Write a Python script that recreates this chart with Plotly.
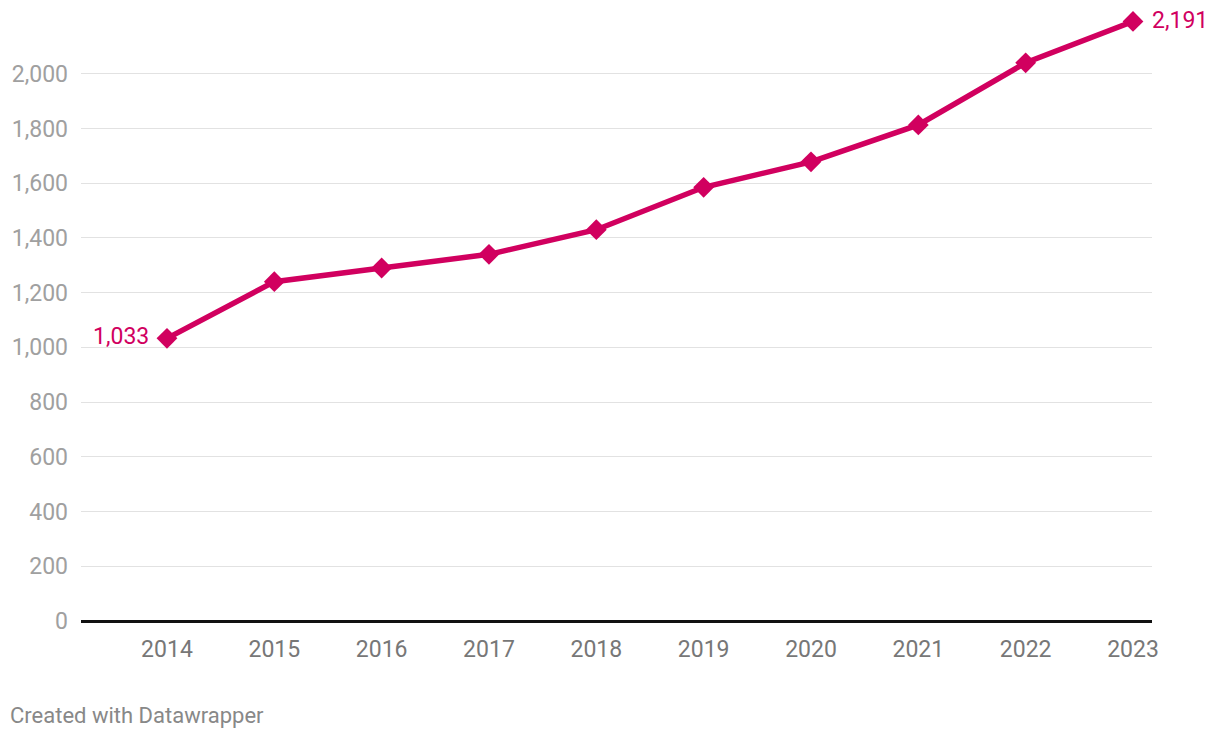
import plotly.graph_objects as go

years = [2014, 2015, 2016, 2017, 2018, 2019, 2020, 2021, 2022, 2023]
values = [1033, 1240, 1290, 1340, 1430, 1585, 1678, 1813, 2040, 2191]
y_ticks = [0, 200, 400, 600, 800, 1000, 1200, 1400, 1600, 1800, 2000]
y_tick_labels = ["0", "200", "400", "600", "800", "1,000", "1,200", "1,400", "1,600", "1,800", "2,000"]

LINE = "#d1005f"

fig = go.Figure()
fig.add_trace(go.Scatter(
    x=years, y=values, mode="lines+markers",
    line=dict(color=LINE, width=5.5),
    marker=dict(symbol="diamond", size=16, color=LINE),
    cliponaxis=False, hoverinfo="skip", showlegend=False,
))

fig.add_annotation(x=years[0], y=values[0], text=f"{values[0]:,}", showarrow=False,
                   xanchor="right", yanchor="middle", xshift=-16, yshift=2,
                   font=dict(family="Roboto", size=23, color=LINE))
fig.add_annotation(x=years[-1], y=values[-1], text=f"{values[-1]:,}", showarrow=False,
                   xanchor="left", yanchor="middle", xshift=17, yshift=1,
                   font=dict(family="Roboto", size=23, color=LINE))

fig.add_annotation(xref="paper", yref="paper", x=(0 - 73) / 1071, y=(613 - 707) / 602,
                   text="Created with Datawrapper", showarrow=False,
                   xanchor="left", yanchor="middle",
                   font=dict(family="Roboto", size=22, color="#888888"))

fig.update_layout(
    width=1212, height=730,
    margin=dict(l=73, r=68, t=11, b=117, autoexpand=False),
    paper_bgcolor="white", plot_bgcolor="white",
    font=dict(family="Roboto"),
    xaxis=dict(range=[2013.199, 2023.177], tickvals=years, ticktext=[str(y) for y in years],
               showgrid=False, zeroline=False, showline=False, automargin=False,
               ticks="", ticklabelstandoff=12,
               tickfont=dict(family="Roboto", size=23, color="#777777")),
    yaxis=dict(range=[0, 2200], tickvals=y_ticks, ticktext=y_tick_labels,
               showgrid=True, gridcolor="#e2e2e2", gridwidth=1, automargin=False,
               zeroline=True, zerolinecolor="#111111", zerolinewidth=2.5,
               showline=False, ticks="", ticklabelstandoff=12,
               tickfont=dict(family="Roboto", size=23, color="#a0a0a0")),
)

fig.write_html("out.html")
